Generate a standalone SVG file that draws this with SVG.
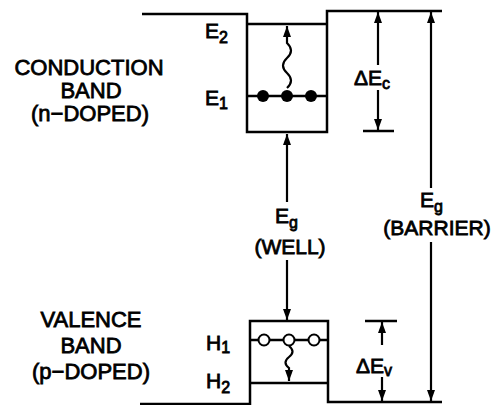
<svg xmlns="http://www.w3.org/2000/svg" width="494" height="405" viewBox="0 0 494 405">
<defs>
<marker id="ah" markerUnits="userSpaceOnUse" markerWidth="12" markerHeight="10" refX="11" refY="4" orient="auto">
<path d="M0,0 L11,4 L0,8 z" fill="#000"/>
</marker>
<style>
.ln{fill:none;stroke:#000;stroke-width:2.5;stroke-linejoin:miter}
.ar{fill:none;stroke:#000;stroke-width:2.2;marker-end:url(#ah)}
.t{font-family:"Liberation Sans",Arial,sans-serif;font-size:21px;fill:#000;stroke:#000;stroke-width:0.8}
.lb{font-size:22px;text-anchor:middle}
.sub{font-size:16px}
</style>
</defs>
<rect width="494" height="405" fill="#fff"/>

<g id="conduction-band">
<path class="ln" d="M142,14 L247,14 L247,132 L327,132 L327,11 L442,11"/>
<text class="t lb" x="89" y="75">CONDUCTION</text>
<text class="t lb" x="91" y="98">BAND</text>
<text class="t lb" x="90" y="121">(n−DOPED)</text>
</g>

<g id="level-E2">
<path class="ln" d="M247,24 L327,24"/>
<text class="t" x="205" y="38">E<tspan class="sub" dy="5">2</tspan></text>
</g>

<g id="level-E1">
<path class="ln" d="M247,96 L327,96"/>
<circle cx="263" cy="96" r="6"/>
<circle cx="287" cy="96" r="6"/>
<circle cx="311" cy="96" r="6"/>
<text class="t" x="205" y="105">E<tspan class="sub" dy="4">1</tspan></text>
</g>

<g id="valence-band">
<path class="ln" d="M140,404 L250,404 L250,321 L328,321 L328,402 L442,402"/>
<text class="t lb" x="91" y="327">VALENCE</text>
<text class="t lb" x="91" y="353">BAND</text>
<text class="t lb" x="91" y="379">(p−DOPED)</text>
</g>

<g id="level-H1">
<path class="ln" d="M250,340 L328,340"/>
<circle cx="264" cy="340" r="5.5" fill="#fff" stroke="#000" stroke-width="2"/>
<circle cx="289" cy="340" r="5.5" fill="#fff" stroke="#000" stroke-width="2"/>
<circle cx="314" cy="340" r="5.5" fill="#fff" stroke="#000" stroke-width="2"/>
<text class="t" x="206" y="350">H<tspan class="sub" dy="3">1</tspan></text>
</g>

<g id="level-H2">
<path class="ln" d="M250,383 L328,383"/>
<text class="t" x="206" y="388">H<tspan class="sub" dy="5">2</tspan></text>
</g>

<g id="label-dEc">
<text class="t" x="354" y="85">ΔE<tspan class="sub" dy="4">c</tspan></text>
</g>
<g id="label-dEv">
<text class="t" x="356" y="373">ΔE<tspan class="sub" dy="3">v</tspan></text>
</g>
<g id="label-Eg-well">
<text class="t" x="275" y="223">E<tspan class="sub" dy="5">g</tspan></text>
<text class="t" x="290" y="254" text-anchor="middle">(WELL)</text>
</g>
<g id="label-Eg-barrier">
<text class="t" x="420" y="207">E<tspan class="sub" dy="5">g</tspan></text>
<text class="t" x="437" y="235" text-anchor="middle">(BARRIER)</text>
</g>

<g id="connectors">
<path class="ar" d="M287,88 q8,-7.5 0,-15 t0,-15 t0,-15 L287,26"/>
<path class="ar" d="M289,346 q7,5.5 0,11 t0,11 L289,381"/>
<path class="ar" d="M378,65 L378,12"/>
<path class="ar" d="M378,90 L378,130"/>
<path class="ln" d="M363,131 L394,131"/>
<path class="ar" d="M287,202 L287,134"/>
<path class="ar" d="M287,260 L287,320"/>
<path class="ln" d="M365,321 L397,321"/>
<path class="ar" d="M382,345 L382,322"/>
<path class="ar" d="M382,377 L382,401"/>
<path class="ar" d="M431,188 L431,12"/>
<path class="ar" d="M431,242 L431,401"/>
</g>
</svg>
